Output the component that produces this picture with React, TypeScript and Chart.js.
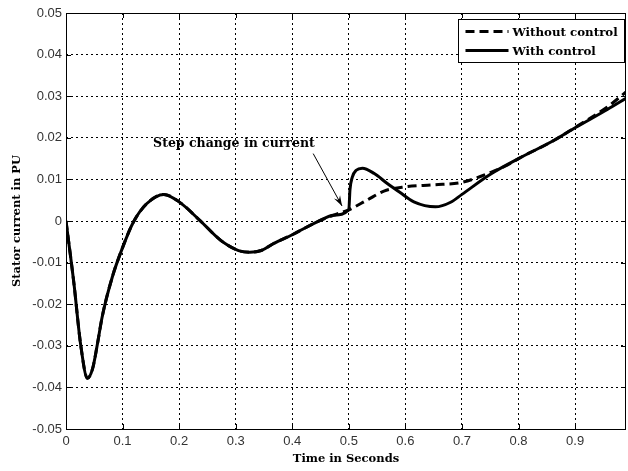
import React, { useEffect, useRef } from 'react';
import { Chart, registerables } from 'chart.js';

Chart.register(...registerables);

// ---- data ----
const xTickValues = [0, 0.1, 0.2, 0.3, 0.4, 0.5, 0.6, 0.7, 0.8, 0.9];
const xTickLabels = ['0', '0.1', '0.2', '0.3', '0.4', '0.5', '0.6', '0.7', '0.8', '0.9'];
const yTickValues = [-0.05, -0.04, -0.03, -0.02, -0.01, 0, 0.01, 0.02, 0.03, 0.04, 0.05];
const yTickLabels = ['-0.05', '-0.04', '-0.03', '-0.02', '-0.01', '0', '0.01', '0.02', '0.03', '0.04', '0.05'];

// common part before the step (both cases identical)
const sharedTime = [0, 0.014, 0.026, 0.038, 0.047, 0.055, 0.064, 0.082, 0.1, 0.119, 0.143, 0.173, 0.2, 0.237, 0.273, 0.305, 0.325, 0.345, 0.367, 0.4, 0.444, 0.473, 0.5];
const sharedCurrent = [0, -0.015, -0.0298, -0.0378, -0.0355, -0.030, -0.023, -0.0134, -0.0064, -0.0003, 0.0042, 0.0064, 0.0046, 0.0001, -0.0046, -0.0071, -0.0075, -0.0071, -0.0054, -0.0033, -0.0002, 0.0014, 0.0027];

// after the step
const withTime = [0.502, 0.506, 0.513, 0.524, 0.545, 0.568, 0.59, 0.615, 0.653, 0.68, 0.7, 0.751, 0.8, 0.863, 0.9, 0.957, 0.99];
const withCurrent = [0.0075, 0.0105, 0.0122, 0.0127, 0.0114, 0.009, 0.0069, 0.0046, 0.0034, 0.0045, 0.0064, 0.0113, 0.015, 0.0194, 0.0224, 0.0268, 0.0295];

const withoutTime = [0.532, 0.562, 0.6, 0.65, 0.7, 0.751, 0.78, 0.8, 0.863, 0.9, 0.957, 0.99];
const withoutCurrent = [0.005, 0.0072, 0.0082, 0.0087, 0.0093, 0.0117, 0.0134, 0.015, 0.0194, 0.0225, 0.0274, 0.031];

const seriesNames = ['Without control', 'With control'];
const annotationText = 'Step change in current';
const annotationAnchor = { x: 0.154, y: 0.0186 };
const arrowFrom = { x: 0.437, y: 0.0162 };
const arrowTo = { x: 0.488, y: 0.0036 };

const xTitle = 'Time in Seconds';
const yTitle = 'Stator current in PU';

function toPoints(t: number[], v: number[]) {
  return t.map((x, i) => ({ x, y: v[i] }));
}

const serif = '"DejaVu Serif", "Liberation Serif", serif';
const DASH = [9, 5];

const decorPlugin = {
  id: 'decor',
  afterDraw(chart: any) {
    const { ctx, chartArea: a, scales } = chart;
    const xs = scales.x;
    const ys = scales.y;
    ctx.save();

    // frame
    ctx.strokeStyle = '#000';
    ctx.lineWidth = 1;
    ctx.setLineDash([]);
    ctx.strokeRect(Math.round(a.left) + 0.5, Math.round(a.top) + 0.5, Math.round(a.right - a.left) - 1, Math.round(a.bottom - a.top));

    // inward tick marks
    ctx.beginPath();
    xTickValues.forEach((v) => {
      const px = Math.round(xs.getPixelForValue(v)) + 0.5;
      ctx.moveTo(px, a.bottom);
      ctx.lineTo(px, a.bottom - 5);
      ctx.moveTo(px, a.top);
      ctx.lineTo(px, a.top + 5);
    });
    yTickValues.forEach((v) => {
      const py = Math.round(ys.getPixelForValue(v)) + 0.5;
      ctx.moveTo(a.left, py);
      ctx.lineTo(a.left + 5, py);
      ctx.moveTo(a.right, py);
      ctx.lineTo(a.right - 5, py);
    });
    ctx.stroke();

    // annotation
    ctx.fillStyle = '#000';
    ctx.font = `bold 12.5px ${serif}`;
    ctx.textAlign = 'left';
    ctx.textBaseline = 'middle';
    ctx.fillText(annotationText, xs.getPixelForValue(annotationAnchor.x), ys.getPixelForValue(annotationAnchor.y));
    const x1 = xs.getPixelForValue(arrowFrom.x);
    const y1 = ys.getPixelForValue(arrowFrom.y);
    const x2 = xs.getPixelForValue(arrowTo.x);
    const y2 = ys.getPixelForValue(arrowTo.y);
    ctx.beginPath();
    ctx.moveTo(x1, y1);
    ctx.lineTo(x2, y2);
    ctx.lineWidth = 1;
    ctx.stroke();
    const ang = Math.atan2(y2 - y1, x2 - x1);
    const hl = 11;
    const hw = 0.32;
    ctx.beginPath();
    ctx.moveTo(x2, y2);
    ctx.lineTo(x2 - hl * Math.cos(ang - hw), y2 - hl * Math.sin(ang - hw));
    ctx.lineTo(x2 - hl * 0.6 * Math.cos(ang), y2 - hl * 0.6 * Math.sin(ang));
    ctx.lineTo(x2 - hl * Math.cos(ang + hw), y2 - hl * Math.sin(ang + hw));
    ctx.closePath();
    ctx.fill();

    // legend
    const lw = 166;
    const lh = 43;
    const lx = Math.round(a.right) - lw - 1.5;
    const ly = Math.round(a.top) + 6.5;
    ctx.fillStyle = '#fff';
    ctx.fillRect(lx, ly, lw, lh);
    ctx.strokeStyle = '#000';
    ctx.lineWidth = 1;
    ctx.strokeRect(lx, ly, lw, lh);
    const rows = [ly + 12, ly + 31];
    ctx.lineWidth = 3;
    ctx.setLineDash(DASH);
    ctx.beginPath();
    ctx.moveTo(lx + 7, rows[0]);
    ctx.lineTo(lx + 50, rows[0]);
    ctx.stroke();
    ctx.setLineDash([]);
    ctx.beginPath();
    ctx.moveTo(lx + 7, rows[1]);
    ctx.lineTo(lx + 50, rows[1]);
    ctx.stroke();
    ctx.fillStyle = '#000';
    ctx.font = `bold 11.8px ${serif}`;
    ctx.textBaseline = 'middle';
    ctx.fillText(seriesNames[0], lx + 54, rows[0] + 1);
    ctx.fillText(seriesNames[1], lx + 54, rows[1] + 1);

    // axis titles
    ctx.font = `bold 11.5px ${serif}`;
    ctx.textAlign = 'center';
    ctx.fillText(xTitle, (a.left + a.right) / 2, 459);
    ctx.translate(17, (a.top + a.bottom) / 2);
    ctx.rotate(-Math.PI / 2);
    ctx.fillText(yTitle, 0, 0);

    ctx.restore();
  },
};

export default function App() {
  const ref = useRef<HTMLCanvasElement | null>(null);

  useEffect(() => {
    document.body.style.margin = '0';
    const canvas = ref.current;
    if (!canvas) return;
    const sharedPts = toPoints(sharedTime, sharedCurrent);
    const chart = new Chart(canvas, {
      type: 'line',
      data: {
        datasets: [
          {
            label: seriesNames[1],
            data: [...sharedPts, ...toPoints(withTime, withCurrent)],
            borderColor: '#000',
            borderWidth: 3,
            pointRadius: 0,
            cubicInterpolationMode: 'monotone',
            fill: false,
          },
          {
            label: seriesNames[0],
            data: [...sharedPts, ...toPoints(withoutTime, withoutCurrent)],
            borderColor: '#000',
            borderWidth: 3,
            borderDash: DASH,
            pointRadius: 0,
            cubicInterpolationMode: 'monotone',
            fill: false,
          },
        ],
      },
      options: {
        animation: false,
        responsive: false,
        devicePixelRatio: 1,
        layout: { padding: { top: 13, right: 2, left: 0, bottom: 0 } },
        plugins: { legend: { display: false }, tooltip: { enabled: false } },
        scales: {
          x: {
            type: 'linear',
            min: 0,
            max: 0.99,
            afterBuildTicks: (s: any) => {
              s.ticks = xTickValues.map((v) => ({ value: v }));
            },
            afterFit: (s: any) => {
              s.height = 42;
            },
            ticks: {
              callback: (v: any) => {
                const i = xTickValues.findIndex((t) => Math.abs(t - v) < 1e-9);
                return i >= 0 ? xTickLabels[i] : '';
              },
              font: { family: '"Liberation Sans", Arial, sans-serif', size: 13 },
              color: '#333',
              padding: 5,
              maxRotation: 0,
              autoSkip: false,
            },
            grid: { color: '#000', lineWidth: 1, drawTicks: false },
            border: { display: false, dash: [2, 3] },
          },
          y: {
            type: 'linear',
            min: -0.05,
            max: 0.05,
            afterBuildTicks: (s: any) => {
              s.ticks = yTickValues.map((v) => ({ value: v }));
            },
            afterFit: (s: any) => {
              s.width = 66;
            },
            ticks: {
              callback: (v: any) => {
                const i = yTickValues.findIndex((t) => Math.abs(t - v) < 1e-9);
                return i >= 0 ? yTickLabels[i] : '';
              },
              font: { family: '"Liberation Sans", Arial, sans-serif', size: 13 },
              color: '#333',
              padding: 4,
              autoSkip: false,
            },
            grid: { color: '#000', lineWidth: 1, drawTicks: false },
            border: { display: false, dash: [2, 3] },
          },
        },
      },
      plugins: [decorPlugin],
    } as any);
    return () => chart.destroy();
  }, []);

  return (
    <div style={{ width: 628, height: 471, background: '#fff' }}>
      <canvas ref={ref} width={628} height={471} style={{ display: 'block', width: 628, height: 471 }} />
    </div>
  );
}
